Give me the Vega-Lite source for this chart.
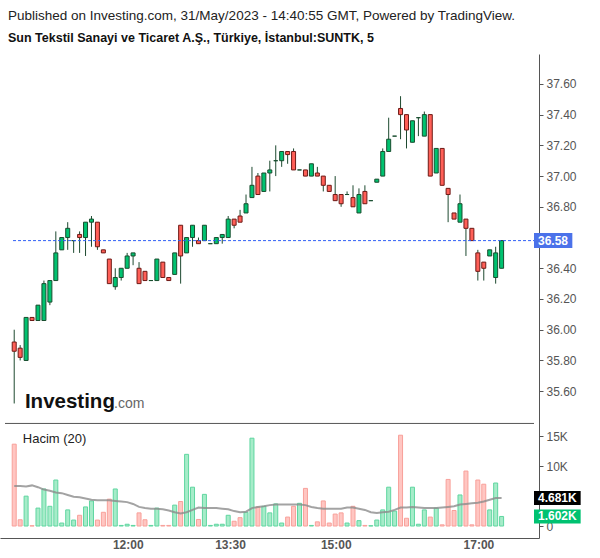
{
  "$schema": "https://vega.github.io/schema/vega-lite/v6.json",
  "autosize": {"type": "fit", "contains": "padding"},
  "width": 600,
  "height": 558,
  "padding": {"left": 0, "top": 9, "right": 13, "bottom": 8},
  "background": "white",
  "config": {"font": "Liberation Sans", "view": {"stroke": null}, "axis": {"labelOverlap": false, "grid": false}},
  "title": {
    "text": "Published on Investing.com, 31/May/2023 - 14:40:55 GMT, Powered by TradingView.",
    "subtitle": "Sun Tekstil Sanayi ve Ticaret A.Ş., Türkiye, İstanbul:SUNTK, 5",
    "anchor": "start", "dx": 8, "fontSize": 13.5, "fontWeight": "normal", "color": "#222",
    "subtitleFontSize": 12.5, "subtitleFontWeight": "bold", "subtitleColor": "#111",
    "subtitlePadding": 9, "offset": 10
  },
  "datasets": {
    "k": [
      {"i":0,"o":35.92,"h":36.00,"l":35.52,"c":35.86,"v":13700,"m":6700},
      {"i":1,"o":35.88,"h":35.90,"l":35.80,"c":35.82,"v":1050,"m":6700},
      {"i":2,"o":35.80,"h":36.08,"l":35.80,"c":36.08,"v":5000,"m":6600},
      {"i":3,"o":36.08,"h":36.08,"l":36.06,"c":36.06,"v":50,"m":6800},
      {"i":4,"o":36.06,"h":36.16,"l":36.06,"c":36.16,"v":3000,"m":6500},
      {"i":5,"o":36.06,"h":36.32,"l":36.06,"c":36.30,"v":6200,"m":6100},
      {"i":6,"o":36.18,"h":36.32,"l":36.16,"c":36.32,"v":3300,"m":5900},
      {"i":7,"o":36.32,"h":36.64,"l":36.32,"c":36.50,"v":7700,"m":5600},
      {"i":8,"o":36.52,"h":36.60,"l":36.52,"c":36.60,"v":500,"m":5500},
      {"i":9,"o":36.60,"h":36.70,"l":36.52,"c":36.66,"v":2700,"m":5200},
      {"i":10,"o":36.58,"h":36.58,"l":36.50,"c":36.58,"v":1000,"m":4900},
      {"i":11,"o":36.62,"h":36.64,"l":36.50,"c":36.60,"v":1800,"m":4800},
      {"i":12,"o":36.60,"h":36.70,"l":36.48,"c":36.70,"v":3200,"m":4600},
      {"i":13,"o":36.70,"h":36.74,"l":36.54,"c":36.72,"v":4200,"m":4400},
      {"i":14,"o":36.70,"h":36.70,"l":36.52,"c":36.54,"v":1000,"m":4300},
      {"i":15,"o":36.52,"h":36.52,"l":36.50,"c":36.50,"v":2300,"m":4300},
      {"i":16,"o":36.46,"h":36.46,"l":36.30,"c":36.30,"v":4500,"m":4300},
      {"i":17,"o":36.28,"h":36.40,"l":36.26,"c":36.34,"v":6200,"m":4200},
      {"i":18,"o":36.34,"h":36.40,"l":36.32,"c":36.40,"v":100,"m":4100},
      {"i":19,"o":36.40,"h":36.50,"l":36.40,"c":36.48,"v":300,"m":4000},
      {"i":20,"o":36.48,"h":36.50,"l":36.42,"c":36.50,"v":100,"m":3700},
      {"i":21,"o":36.40,"h":36.44,"l":36.30,"c":36.30,"v":2200,"m":3200},
      {"i":22,"o":36.38,"h":36.38,"l":36.32,"c":36.32,"v":1050,"m":3000},
      {"i":23,"o":36.32,"h":36.32,"l":36.32,"c":36.32,"v":100,"m":2900},
      {"i":24,"o":36.32,"h":36.46,"l":36.32,"c":36.46,"v":3000,"m":2900},
      {"i":25,"o":36.44,"h":36.44,"l":36.34,"c":36.34,"v":100,"m":2800},
      {"i":26,"o":36.34,"h":36.34,"l":36.32,"c":36.32,"v":100,"m":2600},
      {"i":27,"o":36.36,"h":36.50,"l":36.36,"c":36.50,"v":3500,"m":2300},
      {"i":28,"o":36.68,"h":36.68,"l":36.30,"c":36.48,"v":4100,"m":2100},
      {"i":29,"o":36.50,"h":36.60,"l":36.50,"c":36.60,"v":12000,"m":2300},
      {"i":30,"o":36.60,"h":36.68,"l":36.54,"c":36.68,"v":6500,"m":2700},
      {"i":31,"o":36.58,"h":36.60,"l":36.56,"c":36.56,"v":1100,"m":3100},
      {"i":32,"o":36.58,"h":36.68,"l":36.58,"c":36.68,"v":5300,"m":3000},
      {"i":33,"o":36.56,"h":36.56,"l":36.56,"c":36.56,"v":100,"m":3000},
      {"i":34,"o":36.56,"h":36.60,"l":36.56,"c":36.60,"v":300,"m":3000},
      {"i":35,"o":36.60,"h":36.62,"l":36.56,"c":36.62,"v":300,"m":2900},
      {"i":36,"o":36.60,"h":36.74,"l":36.60,"c":36.72,"v":1800,"m":2800},
      {"i":37,"o":36.72,"h":36.72,"l":36.66,"c":36.68,"v":800,"m":2500},
      {"i":38,"o":36.74,"h":36.78,"l":36.70,"c":36.70,"v":1400,"m":2300},
      {"i":39,"o":36.76,"h":36.88,"l":36.76,"c":36.82,"v":2300,"m":2400},
      {"i":40,"o":36.86,"h":37.06,"l":36.86,"c":36.94,"v":14700,"m":3000},
      {"i":41,"o":37.00,"h":37.02,"l":36.88,"c":36.88,"v":3200,"m":3200},
      {"i":42,"o":36.90,"h":37.02,"l":36.90,"c":37.02,"v":3300,"m":3300},
      {"i":43,"o":37.02,"h":37.10,"l":36.90,"c":37.04,"v":2200,"m":3500},
      {"i":44,"o":37.10,"h":37.20,"l":37.00,"c":37.10,"v":3700,"m":3600},
      {"i":45,"o":37.10,"h":37.16,"l":37.06,"c":37.16,"v":500,"m":3600},
      {"i":46,"o":37.16,"h":37.16,"l":37.08,"c":37.14,"v":1500,"m":3600},
      {"i":47,"o":37.16,"h":37.18,"l":37.04,"c":37.04,"v":3300,"m":3600},
      {"i":48,"o":37.04,"h":37.04,"l":37.04,"c":37.04,"v":3800,"m":3600},
      {"i":49,"o":37.04,"h":37.04,"l":37.00,"c":37.00,"v":6300,"m":3500},
      {"i":50,"o":37.00,"h":37.08,"l":37.00,"c":37.08,"v":100,"m":3200},
      {"i":51,"o":37.02,"h":37.06,"l":37.00,"c":37.00,"v":700,"m":3000},
      {"i":52,"o":37.00,"h":37.00,"l":36.90,"c":36.94,"v":4200,"m":2900},
      {"i":53,"o":36.94,"h":36.94,"l":36.90,"c":36.90,"v":500,"m":2900},
      {"i":54,"o":36.88,"h":37.00,"l":36.84,"c":36.84,"v":2000,"m":2900},
      {"i":55,"o":36.88,"h":36.88,"l":36.80,"c":36.82,"v":2200,"m":2900},
      {"i":56,"o":36.88,"h":36.90,"l":36.88,"c":36.88,"v":500,"m":3100},
      {"i":57,"o":36.86,"h":36.94,"l":36.80,"c":36.80,"v":3300,"m":3100},
      {"i":58,"o":36.76,"h":36.92,"l":36.76,"c":36.88,"v":900,"m":2900},
      {"i":59,"o":36.90,"h":36.94,"l":36.82,"c":36.82,"v":100,"m":2700},
      {"i":60,"o":36.84,"h":36.84,"l":36.84,"c":36.84,"v":50,"m":2300},
      {"i":61,"o":36.96,"h":36.98,"l":36.96,"c":36.98,"v":1000,"m":2200},
      {"i":62,"o":37.00,"h":37.18,"l":37.00,"c":37.16,"v":2700,"m":2300},
      {"i":63,"o":37.16,"h":37.38,"l":37.16,"c":37.24,"v":6500,"m":2400},
      {"i":64,"o":37.26,"h":37.26,"l":37.26,"c":37.26,"v":2500,"m":2700},
      {"i":65,"o":37.44,"h":37.52,"l":37.24,"c":37.40,"v":15200,"m":3100},
      {"i":66,"o":37.40,"h":37.40,"l":37.18,"c":37.30,"v":1300,"m":3100},
      {"i":67,"o":37.22,"h":37.36,"l":37.22,"c":37.36,"v":6500,"m":3200},
      {"i":68,"o":37.38,"h":37.38,"l":37.26,"c":37.38,"v":300,"m":3100},
      {"i":69,"o":37.26,"h":37.42,"l":37.26,"c":37.40,"v":2700,"m":3000},
      {"i":70,"o":37.40,"h":37.40,"l":37.00,"c":37.00,"v":1500,"m":3000},
      {"i":71,"o":37.02,"h":37.18,"l":37.02,"c":37.18,"v":3000,"m":3000},
      {"i":72,"o":37.18,"h":37.18,"l":36.94,"c":36.94,"v":200,"m":3100},
      {"i":73,"o":36.92,"h":36.92,"l":36.70,"c":36.88,"v":7800,"m":3200},
      {"i":74,"o":36.76,"h":36.76,"l":36.72,"c":36.72,"v":2600,"m":3300},
      {"i":75,"o":36.70,"h":36.88,"l":36.70,"c":36.82,"v":5200,"m":3600},
      {"i":76,"o":36.72,"h":36.72,"l":36.48,"c":36.66,"v":9200,"m":3700},
      {"i":77,"o":36.66,"h":36.66,"l":36.58,"c":36.58,"v":200,"m":3800},
      {"i":78,"o":36.50,"h":36.52,"l":36.32,"c":36.38,"v":7700,"m":3900},
      {"i":79,"o":36.44,"h":36.44,"l":36.32,"c":36.40,"v":7000,"m":4100},
      {"i":80,"o":36.48,"h":36.52,"l":36.48,"c":36.52,"v":2700,"m":4400},
      {"i":81,"o":36.34,"h":36.54,"l":36.30,"c":36.50,"v":7200,"m":4700},
      {"i":82,"o":36.40,"h":36.58,"l":36.40,"c":36.58,"v":1602,"m":4681}
    ]
  },
  "data": {"name": "k"},
  "transform": [{"calculate": "datum.c >= datum.o ? 'up' : 'down'", "as": "dir"}],
  "resolve": {"scale": {"y": "independent", "fill": "independent", "stroke": "independent"}, "axis": {"y": "independent"}},
  "layer": [
    {
      "layer": [
        {
          "mark": {"type": "rule", "color": "#1e4a30", "strokeWidth": 1},
          "encoding": {
            "x": {"field": "i", "type": "quantitative", "scale": {"domain": [-1.55, 87.45], "nice": false, "zero": false},
                  "axis": {"values": [19.1, 36.3, 54.1, 78.1],
                           "labelExpr": "datum.value < 25 ? '12:00' : datum.value < 45 ? '13:30' : datum.value < 65 ? '15:00' : '17:00'",
                           "labelFontWeight": "bold", "labelColor": "#555", "labelFontSize": 12, "ticks": false, "labelOverlap": false,
                           "domainColor": "#555", "labelPadding": 1, "grid": false, "title": null}},
            "y": {"field": "l", "type": "quantitative", "scale": {"domain": [34.677, 37.762], "nice": false, "zero": false},
                  "axis": {"orient": "right", "values": [35.6, 35.8, 36.0, 36.2, 36.4, 36.6, 36.8, 37.0, 37.2, 37.4, 37.6],
                           "labelExpr": "datum.value == 36.6 ? '' : format(datum.value, '.2f')", "labelOverlap": false,
                           "labelColor": "#555", "labelFontSize": 12, "tickColor": "#555", "tickSize": 4,
                           "domainColor": "#555", "labelPadding": 3, "grid": false, "title": null}},
            "y2": {"field": "h"}
          }
        },
        {
          "mark": {"type": "bar", "size": 4, "strokeWidth": 1},
          "encoding": {
            "x": {"field": "i", "type": "quantitative"},
            "y": {"field": "o", "type": "quantitative"},
            "y2": {"field": "c"},
            "fill": {"field": "dir", "type": "nominal", "scale": {"domain": ["up", "down"], "range": ["#00c270", "#ff5f57"]}, "legend": null},
            "stroke": {"field": "dir", "type": "nominal", "scale": {"domain": ["up", "down"], "range": ["#184d2e", "#6e1a16"]}, "legend": null}
          }
        },
        {
          "transform": [{"filter": "datum.i == 0"}],
          "mark": {"type": "rule", "color": "#555", "strokeWidth": 1},
          "encoding": {
            "x": {"datum": -1.55, "type": "quantitative"},
            "x2": {"datum": 87.45},
            "y": {"datum": 35.39, "type": "quantitative"}
          }
        },
        {
          "transform": [{"filter": "datum.i == 82"}],
          "mark": {"type": "rule", "color": "#2f5ff5", "strokeDash": [3, 2], "strokeWidth": 1},
          "encoding": {
            "x": {"datum": -0.2, "type": "quantitative"},
            "x2": {"datum": 87.45},
            "y": {"field": "c", "type": "quantitative"}
          }
        },
        {
          "transform": [{"filter": "datum.i == 82"}],
          "mark": {"type": "bar", "size": 15, "color": "#4b72ea"},
          "encoding": {
            "x": {"datum": 87.45, "type": "quantitative"},
            "x2": {"datum": 93.9},
            "y": {"field": "c", "type": "quantitative"}
          }
        },
        {
          "transform": [{"filter": "datum.i == 82"}],
          "mark": {"type": "text", "color": "white", "fontWeight": "bold", "fontSize": 12, "align": "left", "baseline": "middle", "dx": 4},
          "encoding": {
            "x": {"datum": 87.45, "type": "quantitative"},
            "y": {"field": "c", "type": "quantitative"},
            "text": {"field": "c", "format": ".2f"}
          }
        },
        {
          "transform": [{"filter": "datum.i == 0"}],
          "mark": {"type": "text", "color": "#111", "fontWeight": "bold", "fontSize": 20.5, "align": "left", "baseline": "alphabetic", "text": "Investing"},
          "encoding": {
            "x": {"datum": 1.8, "type": "quantitative"},
            "y": {"datum": 35.493, "type": "quantitative"}
          }
        },
        {
          "transform": [{"filter": "datum.i == 0"}],
          "mark": {"type": "text", "color": "#666", "fontSize": 14, "align": "left", "baseline": "alphabetic", "text": ".com"},
          "encoding": {
            "x": {"datum": 16.8, "type": "quantitative"},
            "y": {"datum": 35.493, "type": "quantitative"}
          }
        }
      ]
    },
    {
      "layer": [
        {
          "mark": {"type": "bar", "size": 4, "strokeWidth": 1},
          "encoding": {
            "x": {"field": "i", "type": "quantitative"},
            "y": {"field": "v", "type": "quantitative", "scale": {"domain": [-1167, 78167], "nice": false, "zero": false},
                  "axis": {"orient": "right", "values": [0, 5000, 10000, 15000], "labelOverlap": false, "domain": false,
                           "labelExpr": "datum.value == 0 ? '0' : datum.value == 5000 ? '' : (datum.value / 1000) + 'K'",
                           "labelColor": "#555", "labelFontSize": 12, "tickColor": "#555", "tickSize": 4,
                           "labelPadding": 3, "grid": false, "title": null}},
            "y2": {"datum": 0},
            "fill": {"field": "dir", "type": "nominal", "scale": {"domain": ["up", "down"], "range": ["#a6ecc9", "#ffc6c2"]}, "legend": null},
            "stroke": {"field": "dir", "type": "nominal", "scale": {"domain": ["up", "down"], "range": ["#5fd6a0", "#f8a09a"]}, "legend": null}
          }
        },
        {
          "mark": {"type": "line", "color": "#8c8c8c", "opacity": 0.8, "strokeWidth": 2},
          "encoding": {
            "x": {"field": "i", "type": "quantitative"},
            "y": {"field": "m", "type": "quantitative"}
          }
        },
        {
          "transform": [{"filter": "datum.i == 0"}],
          "mark": {"type": "text", "color": "#222", "fontSize": 13, "align": "left", "baseline": "middle", "text": "Hacim (20)"},
          "encoding": {
            "x": {"datum": 1.45, "type": "quantitative"},
            "y": {"datum": 14500, "type": "quantitative"}
          }
        },
        {
          "transform": [{"filter": "datum.i == 82"}],
          "mark": {"type": "bar", "size": 14, "color": "#000"},
          "encoding": {
            "x": {"datum": 87.45, "type": "quantitative"},
            "x2": {"datum": 95.3},
            "y": {"field": "m", "type": "quantitative"}
          }
        },
        {
          "transform": [{"filter": "datum.i == 82"}, {"calculate": "format(datum.m / 1000, '.3f') + 'K'", "as": "ml"}],
          "mark": {"type": "text", "color": "white", "fontWeight": "bold", "fontSize": 12, "align": "left", "baseline": "middle", "dx": 4},
          "encoding": {
            "x": {"datum": 87.45, "type": "quantitative"},
            "y": {"field": "m", "type": "quantitative"},
            "text": {"field": "ml"}
          }
        },
        {
          "transform": [{"filter": "datum.i == 82"}],
          "mark": {"type": "bar", "size": 14, "color": "#00c271"},
          "encoding": {
            "x": {"datum": 87.45, "type": "quantitative"},
            "x2": {"datum": 95.3},
            "y": {"field": "v", "type": "quantitative"}
          }
        },
        {
          "transform": [{"filter": "datum.i == 82"}, {"calculate": "format(datum.v / 1000, '.3f') + 'K'", "as": "vl"}],
          "mark": {"type": "text", "color": "white", "fontWeight": "bold", "fontSize": 12, "align": "left", "baseline": "middle", "dx": 4},
          "encoding": {
            "x": {"datum": 87.45, "type": "quantitative"},
            "y": {"field": "v", "type": "quantitative"},
            "text": {"field": "vl"}
          }
        }
      ]
    }
  ]
}
